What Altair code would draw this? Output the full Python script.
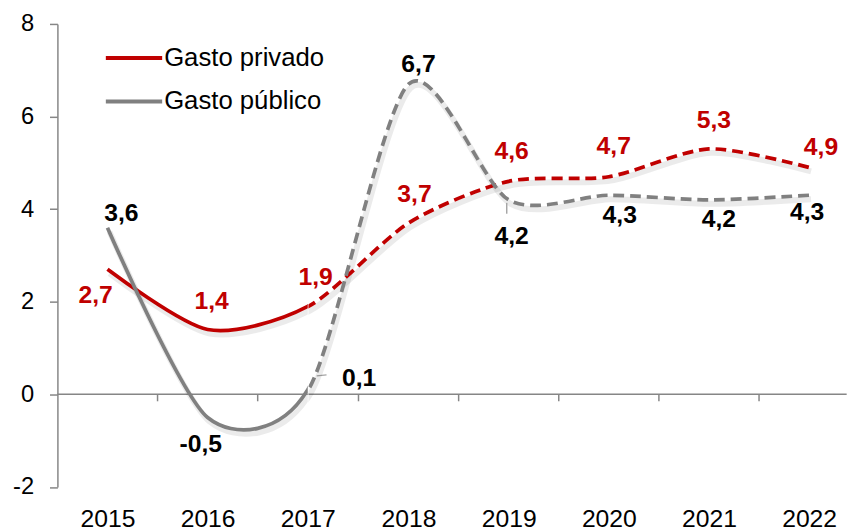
import altair as alt
import pandas as pd

# ---- data ----
years = [2015, 2016, 2017, 2018, 2019, 2020, 2021, 2022]
series = ["Gasto privado", "Gasto público"]
gasto_privado = [2.7, 1.4, 1.9, 3.7, 4.6, 4.7, 5.3, 4.9]
gasto_publico = [3.6, -0.5, 0.1, 6.7, 4.2, 4.3, 4.2, 4.3]
projection_start = 2017  # dashed from here on

# ---- styling (kept apart from the data) ----
line_colors = ["#C00000", "#808080"]
label_colors = ["#C00000", "#000000"]
# label offsets in pixels (dx, dy) for each point
offsets_privado = [(-12, 26), (4, -29), (8, -30), (6, -29), (3, -31), (5, -31), (5, -29), (12, -21)]
offsets_publico = [(14, -15), (-7, 27), (52, -12), (10, -20), (3, 37), (11, 20), (10, 19), (-2, 17)]

FONT = "Liberation Sans"
PX_PER_YEAR = 101.33
X_MIN = 2014.5
X_MAX = 2022.375
W_LEFT = (projection_start - X_MIN) * PX_PER_YEAR
W_RIGHT = (X_MAX - projection_start) * PX_PER_YEAR
H = 468.5
TENSION = 0.2
AXIS_GRAY = "#868686"

rows = []
for s, vals in zip(series, [gasto_privado, gasto_publico]):
    for y, v in zip(years, vals):
        rows.append({"year": y, "value": v, "serie": s})
df = pd.DataFrame(rows)

yscale = alt.Scale(domain=[-2, 8], nice=False, zero=False)
color_scale = alt.Scale(domain=series, range=line_colors)


def make_panel(xmin, xmax, width, solid, axis_years, left):
    xscale = alt.Scale(domain=[xmin, xmax], nice=False, zero=False)
    xaxis = alt.Axis(values=axis_years, format="d", labelFlush=False, domain=False, ticks=False,
                     grid=False, labelPadding=20, labelFontSize=25, labelColor="black",
                     labelFont=FONT, title=None, labelOverlap=False)
    if left:
        yaxis = alt.Axis(values=[-2, 0, 2, 4, 6, 8], domainColor=AXIS_GRAY, domainWidth=1.5,
                         tickColor=AXIS_GRAY, tickWidth=1.5, tickSize=8, labelPadding=16,
                         labelFontSize=24, labelColor="black", labelFont=FONT, grid=False,
                         title=None, labelExpr="replace(datum.label, '\u2212', '-')")
    else:
        yaxis = None

    def X(field="year"):
        return alt.X(f"{field}:Q", scale=xscale, axis=xaxis)

    def Y(field="value"):
        return alt.Y(f"{field}:Q", scale=yscale, axis=yaxis)

    layers = []
    # zero line
    zero = pd.DataFrame({"z": [0]})
    layers.append(
        alt.Chart(zero).mark_rule(color=AXIS_GRAY, strokeWidth=1.5).encode(
            y=alt.Y("z:Q", scale=yscale, axis=yaxis)
        )
    )
    # category boundary ticks on the zero line
    bounds = pd.DataFrame({"b": [y + 0.5 for y in years[:-1] if xmin < y + 0.5 < xmax]})
    layers.append(
        alt.Chart(bounds).mark_rule(color=AXIS_GRAY, strokeWidth=1.5).encode(
            x=alt.X("b:Q", scale=xscale, axis=xaxis),
            y=alt.YDatum(0, scale=yscale, axis=yaxis),
            y2=alt.Y2Datum(-0.15),
        )
    )
    # soft shadow
    layers.append(
        alt.Chart(df).mark_line(interpolate="cardinal", tension=TENSION, color="#000000",
                                opacity=0.08, strokeWidth=6, xOffset=2, yOffset=4, clip=True).encode(
            x=X(), y=Y(), detail="serie:N"
        )
    )
    # lines
    line_kw = dict(interpolate="cardinal", tension=TENSION, strokeWidth=3.75, clip=True)
    if not solid:
        line_kw["strokeDash"] = [11, 6]
    if left:
        legend = alt.Legend(orient="none", legendX=47, legendY=4, title=None, symbolType="stroke",
                            symbolSize=3249, symbolStrokeWidth=4, labelFontSize=26, labelFont=FONT,
                            labelColor="black", padding=0, rowPadding=-15, labelOffset=0, labelLimit=0)
    else:
        legend = None
    layers.append(
        alt.Chart(df).mark_line(**line_kw).encode(
            x=X(), y=Y(),
            color=alt.Color("serie:N", scale=color_scale, legend=legend),
            order=alt.Order("year:Q"),
        )
    )
    return layers, X, Y


left_layers, XL, YL = make_panel(X_MIN, projection_start, W_LEFT, True, [2015, 2016, 2017], True)
right_layers, XR, YR = make_panel(projection_start, X_MAX, W_RIGHT, False, [2018, 2019, 2020, 2021, 2022], False)

# leader lines for two labels of "Gasto público"
lead_2017 = pd.DataFrame([{"year": 2017, "value": gasto_publico[years.index(2017)]}])
lead_2019 = pd.DataFrame([{"year": 2019, "value": gasto_publico[years.index(2019)]}])
left_layers.append(
    alt.Chart(lead_2017).mark_rule(color="#A6A6A6", strokeWidth=1.5, xOffset=9, x2Offset=19,
                                   yOffset=-14, y2Offset=-15).encode(
        x=XL(), x2="year:Q", y=YL(), y2="value:Q")
)
right_layers.append(
    alt.Chart(lead_2019).mark_rule(color="#A6A6A6", strokeWidth=1.5, xOffset=-2, x2Offset=-2,
                                   yOffset=3, y2Offset=14).encode(
        x=XR(), x2="year:Q", y=YR(), y2="value:Q")
)

# value labels
for s_i, (vals, offs) in enumerate([(gasto_privado, offsets_privado), (gasto_publico, offsets_publico)]):
    for y, v, (dx, dy) in zip(years, vals, offs):
        d = pd.DataFrame([{"year": y, "value": v, "lab": f"{v:.1f}".replace(".", ",")}])
        is_left = y <= projection_start
        Xf, Yf = (XL, YL) if is_left else (XR, YR)
        t = alt.Chart(d).mark_text(dx=dx, dy=dy, fontSize=25, fontWeight="bold", font=FONT,
                                   color=label_colors[s_i], align="center", baseline="middle").encode(
            x=Xf(), y=Yf(), text="lab:N")
        (left_layers if is_left else right_layers).append(t)

left = alt.layer(*left_layers).properties(width=W_LEFT, height=H)
right = alt.layer(*right_layers).properties(width=W_RIGHT, height=H)

chart = alt.hconcat(left, right, spacing=0, bounds="flush").resolve_legend(
    color="independent"
).properties(
    padding={"left": 4, "top": 1, "right": 0, "bottom": 0},
    background="white",
).configure_view(stroke=None)

chart.save("out.html", embed_options={"renderer": "svg", "actions": False})
